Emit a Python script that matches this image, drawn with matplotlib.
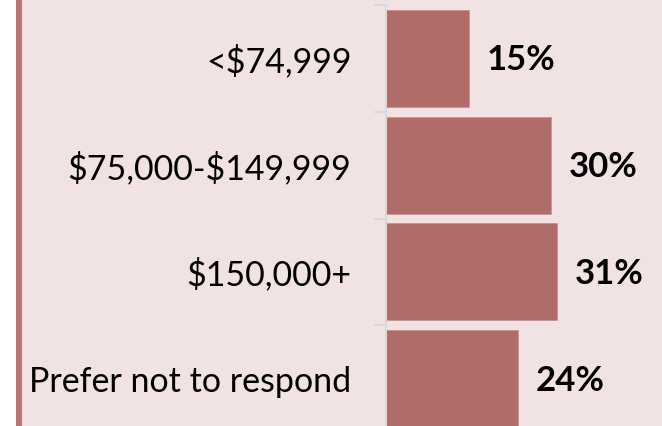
import matplotlib
matplotlib.use("Agg")
from matplotlib import pyplot as plt
from matplotlib.patches import Rectangle

categories = ["<$74,999", "$75,000-$149,999", "$150,000+", "Prefer not to respond"]
shares = [15, 30, 31, 24]
share_labels = ["15%", "30%", "31%", "24%"]

BG = "#F1E3E3"
BAR = "#B06C69"
STRIPE = "#B87571"
GRID = "#D9D9D9"

plt.rcParams['font.family'] = ['Lato', 'DejaVu Sans']
plt.rcParams['text.parse_math'] = False

W, H = 662, 426
fig = plt.figure(figsize=(W / 100, H / 100), dpi=100)
fig.patch.set_facecolor("white")
# pink panel and dark stripe on the left
fig.patches.append(Rectangle((22 / W, 0), 1, 1, transform=fig.transFigure,
                             facecolor=BG, edgecolor="none", zorder=-10))
fig.patches.append(Rectangle((16 / W, 0), 6 / W, 1, transform=fig.transFigure,
                             facecolor=STRIPE, edgecolor="none", zorder=-10))

x0, top, bottom = 386, 5, 432
ax = fig.add_axes([x0 / W, (H - bottom) / H, (W - x0) / W, (bottom - top) / H])
ax.set_facecolor("none")
ax.set_zorder(5)

pos = list(range(len(categories)))
ax.barh(pos, shares, height=0.91, color=BAR, edgecolor="#C99290", linewidth=0.6)
ax.set_ylim(len(categories) - 0.5, -0.5)
ax.set_xlim(0, (W - x0) / 5.5)

for p, v, lab in zip(pos, shares, share_labels):
    ax.annotate(lab, (v, p), xytext=(13, -1.5), textcoords="offset points",
                va="center", ha="left", fontsize=25, fontweight="bold", color="black")

ax.set_yticks(pos)
ax.set_yticklabels(categories, fontsize=24.5)
ax.tick_params(axis="y", which="major", length=0, pad=25)
ax.set_yticks([i - 0.5 for i in range(len(categories) + 1)], minor=True)
ax.tick_params(axis="y", which="minor", length=9, width=1.5, color=GRID)
ax.set_xticks([])

for s in ["top", "right", "bottom"]:
    ax.spines[s].set_visible(False)
ax.spines["left"].set_color(GRID)
ax.spines["left"].set_linewidth(1.5)

fig.savefig("out.png", dpi=100)
